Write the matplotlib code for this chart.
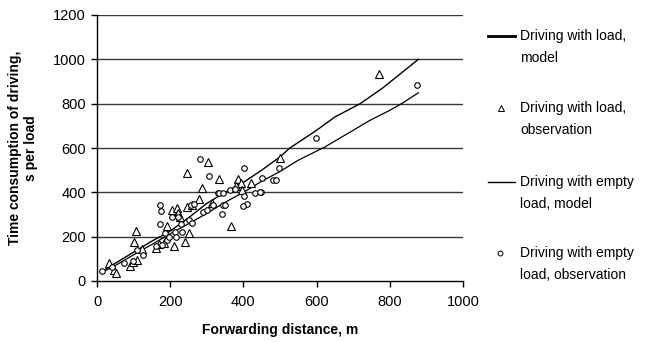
import matplotlib
matplotlib.use("Agg")
from matplotlib import pyplot as plt
from matplotlib.lines import Line2D

plt.rcParams['font.family'] = ['Liberation Sans', 'DejaVu Sans']

# model curves
load_model_x = [20, 50, 100, 150, 200, 250, 300, 350, 400, 450, 500, 527, 600, 650, 719, 780, 878]
load_model_y = [50, 80, 130, 180, 225, 285, 350, 400, 445, 500, 560, 600, 680, 740, 800, 870, 1000]
empty_model_x = [15, 50, 100, 150, 200, 250, 300, 350, 400, 450, 500, 550, 623, 700, 746, 800, 837, 878]
empty_model_y = [40, 70, 118, 165, 213, 258, 305, 355, 400, 450, 494, 545, 605, 680, 725, 770, 805, 849]

# observations
load_obs_x = [33, 46, 51, 90, 99, 110, 106, 102, 124, 161, 170, 190, 184, 211, 240, 252, 206, 219,
              220, 245, 279, 313, 366, 304, 245, 334, 286, 386, 393, 421, 260, 500, 771, 380, 395, 228]
load_obs_y = [83, 50, 38, 68, 87, 95, 225, 174, 146, 147, 167, 248, 170, 158, 174, 215, 320, 328,
              306, 335, 368, 350, 248, 538, 486, 459, 418, 459, 440, 443, 343, 553, 934, 430, 410, 290]
empty_obs_x = [15, 40, 75, 97, 108, 125, 172, 175, 172, 186, 190, 177, 213, 216, 206, 220, 229, 233,
               250, 259, 257, 266, 290, 300, 318, 341, 345, 331, 281, 307, 402, 334, 344, 363, 377,
               432, 448, 402, 409, 400, 350, 452, 480, 489, 497, 598, 875, 445, 196, 160]
empty_obs_y = [47, 65, 83, 92, 140, 117, 343, 317, 257, 218, 185, 162, 222, 197, 287, 290, 256, 222,
               275, 260, 343, 347, 313, 320, 343, 302, 343, 395, 550, 475, 508, 398, 399, 410, 413,
               398, 403, 383, 346, 338, 343, 463, 456, 455, 508, 647, 884, 400, 200, 160]

legend_labels = ["Driving with load,\nmodel", "Driving with load,\nobservation",
                 "Driving with empty\nload, model", "Driving with empty\nload, observation"]

fig = plt.figure(figsize=(6.45, 3.42), dpi=100)
ax = fig.add_axes([97 / 645, 1 - 281 / 342, 366 / 645, 266 / 342])

for yv in range(200, 1201, 200):
    ax.axhline(yv, color='#383838', lw=1.0, zorder=1)

ax.plot(load_model_x, load_model_y, color='black', lw=1.0, zorder=3)
ax.plot(empty_model_x, empty_model_y, color='black', lw=0.9, zorder=3)
ax.plot(load_obs_x, load_obs_y, linestyle='none', marker='^', ms=5.5, mfc='white',
        mec='black', mew=0.8, zorder=4)
ax.plot(empty_obs_x, empty_obs_y, linestyle='none', marker='o', ms=4, mfc='white',
        mec='black', mew=0.8, zorder=4)

ax.set_xlim(0, 1000)
ax.set_ylim(0, 1200)
ax.set_xticks(range(0, 1001, 200))
ax.set_yticks(range(0, 1201, 200))
for s in ['top', 'right']:
    ax.spines[s].set_visible(False)
ax.spines['left'].set_linewidth(1.0)
ax.spines['bottom'].set_linewidth(1.0)
ax.tick_params(direction='out', length=4, width=1.0, labelsize=10.5, pad=4)
ax.tick_params(axis='x', pad=6)

ax.set_xlabel("Forwarding distance, m", fontsize=10, fontweight='bold', labelpad=10)
ax.set_ylabel("Time consumption of driving,\ns per load", fontsize=10, fontweight='bold',
              labelpad=11)

# legend drawn by hand so the symbol sits on the first text line
entry_y = [36, 108, 182, 253]
for i, (lab, yp) in enumerate(zip(legend_labels, entry_y)):
    yf = 1 - yp / 342
    fig.text(520 / 645, yf + 7 / 342, lab, fontsize=10, va='top', ha='left',
             linespacing=1.7)
    if i == 0:
        fig.add_artist(Line2D([488 / 645, 515 / 645], [yf, yf], color='black', lw=2.0))
    elif i == 2:
        fig.add_artist(Line2D([488 / 645, 515 / 645], [yf, yf], color='black', lw=1.0))
    elif i == 1:
        fig.add_artist(Line2D([501 / 645], [yf], marker='^', ms=4.5, mfc='white',
                              mec='black', mew=0.7, linestyle='none'))
    else:
        fig.add_artist(Line2D([500 / 645], [yf], marker='o', ms=3.5, mfc='white',
                              mec='black', mew=0.7, linestyle='none'))

fig.savefig("out.png", dpi=100)
